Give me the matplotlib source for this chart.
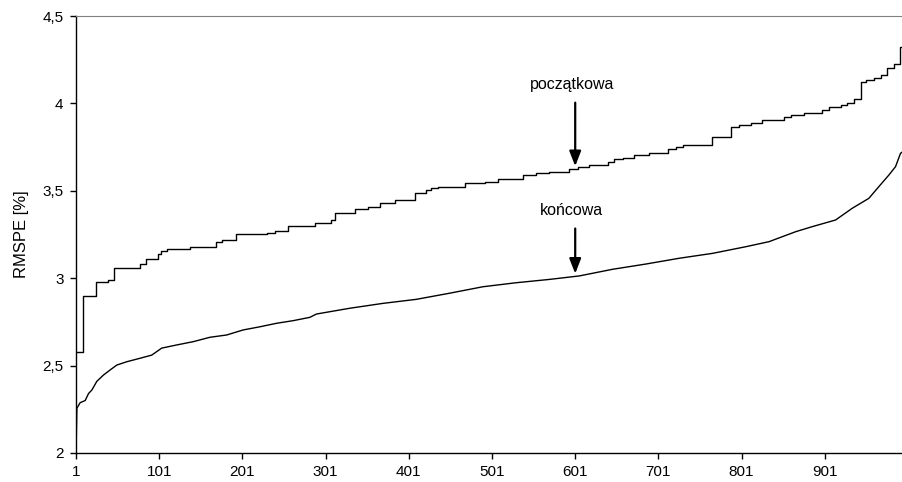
import matplotlib
matplotlib.use('Agg')
import matplotlib.pyplot as plt
import numpy as np

plt.rcParams['font.family'] = ['Liberation Sans', 'DejaVu Sans']
plt.rc('xtick', labelsize=11)
plt.rc('ytick', labelsize=11)

# początkowa: step breakpoints (start index, value)
pocz_idx = [1, 9, 25, 40, 47, 78, 85, 100, 103, 110, 138, 169, 176, 193, 230,
            240, 256, 288, 308, 312, 336, 352, 366, 384, 408, 422, 428, 436,
            468, 492, 508, 538, 554, 570, 594, 604, 618, 640, 648, 658, 672,
            690, 712, 722, 730, 766, 788, 798, 812, 826, 852, 860, 876, 898,
            906, 920, 928, 936, 944, 950, 960, 968, 976, 984, 991, 995]
pocz_val = [2.58, 2.90, 2.98, 2.99, 3.06, 3.08, 3.11, 3.14, 3.155, 3.165, 3.18,
            3.205, 3.22, 3.25, 3.257, 3.27, 3.30, 3.317, 3.333, 3.375, 3.394,
            3.405, 3.43, 3.45, 3.486, 3.505, 3.518, 3.524, 3.543, 3.552, 3.567,
            3.59, 3.60, 3.61, 3.625, 3.638, 3.65, 3.667, 3.68, 3.69, 3.705,
            3.718, 3.737, 3.749, 3.762, 3.81, 3.867, 3.876, 3.89, 3.905, 3.924,
            3.934, 3.947, 3.962, 3.978, 3.991, 4.004, 4.023, 4.124, 4.134,
            4.147, 4.162, 4.20, 4.224, 4.324, 4.324]

# końcowa: points
konc_idx = [1, 2, 6, 12, 16, 20, 26, 34, 42, 50, 62, 78, 92, 104, 122, 142,
            162, 182, 202, 222, 242, 262, 282, 290, 330, 370, 410, 450, 490,
            530, 570, 606, 646, 686, 726, 766, 806, 834, 866, 886, 914, 934,
            954, 966, 978, 986, 992, 995]
konc_val = [2.0, 2.256, 2.288, 2.30, 2.34, 2.36, 2.41, 2.446, 2.475, 2.503,
            2.522, 2.542, 2.56, 2.60, 2.618, 2.637, 2.662, 2.675, 2.704, 2.722,
            2.742, 2.757, 2.776, 2.795, 2.828, 2.856, 2.879, 2.914, 2.951,
            2.974, 2.993, 3.013, 3.051, 3.081, 3.114, 3.142, 3.18, 3.209,
            3.266, 3.295, 3.333, 3.40, 3.457, 3.524, 3.59, 3.638, 3.714, 3.725]

yticks = [2, 2.5, 3, 3.5, 4, 4.5]
ytick_labels = ['2', '2,5', '3', '3,5', '4', '4,5']
xticks = [1, 101, 201, 301, 401, 501, 601, 701, 801, 901]

fig = plt.figure(figsize=(9.03, 4.82), dpi=100)
ax = fig.add_axes([0.0842, 0.0602, 0.9158, 0.9066])

ax.step(pocz_idx, pocz_val, where='post', color='black', lw=1.0)
ax.plot(konc_idx, konc_val, color='black', lw=1.0)

ax.set_xlim(1, 995)
ax.set_ylim(2, 4.5)
ax.set_yticks(yticks)
ax.set_yticklabels(ytick_labels)
ax.set_xticks(xticks)
ax.set_ylabel('RMSPE [%]', fontsize=12, labelpad=10)

ax.spines['right'].set_visible(False)
ax.spines['top'].set_color('#808080')
ax.spines['left'].set_linewidth(1.0)
ax.spines['bottom'].set_linewidth(1.0)
ax.tick_params(direction='out', length=4, width=1, pad=5)

arrow = dict(arrowstyle='-|>,head_length=0.9,head_width=0.35', color='black', lw=1.6)
ax.annotate('', xy=(601, 3.625), xytext=(601, 4.02), arrowprops=arrow)
ax.text(597, 4.11, 'początkowa', ha='center', va='center', fontsize=11.5)
ax.annotate('', xy=(601, 3.01), xytext=(601, 3.30), arrowprops=arrow)
ax.text(597, 3.385, 'końcowa', ha='center', va='center', fontsize=11.5)

fig.savefig('out.png', dpi=100)
